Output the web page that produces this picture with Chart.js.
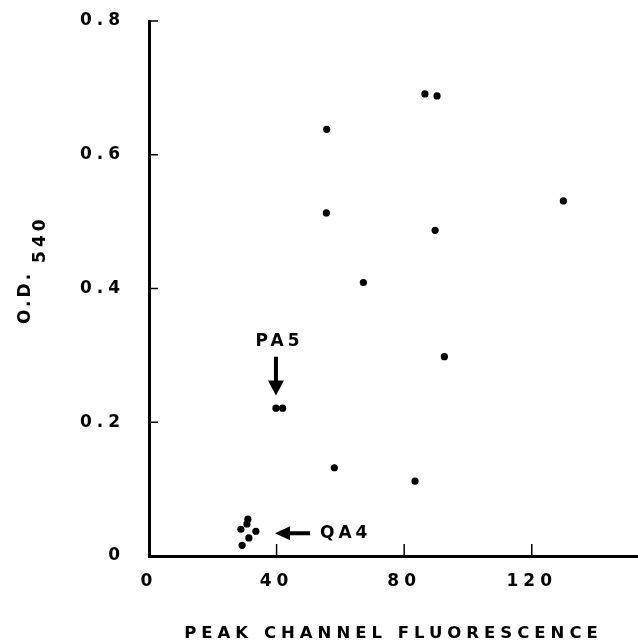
<!DOCTYPE html>
<html lang="en">
 <head>
  <meta charset="UTF-8" />
  <title>O.D. 540 vs peak channel fluorescence</title>
  <script src="https://cdn.jsdelivr.net/npm/chart.js@4.4.0/dist/chart.umd.min.js"></script>
  <style>
   * {
    margin: 0;
    padding: 0;
    box-sizing: border-box;
   }
   body {
    background: #ffffff;
   }
   .wrapper {
    width: 638px;
    height: 644px;
   }
  </style>
 </head>
 <body>
  <div class="wrapper">
   <canvas id="chart" width="638" height="644"></canvas>
  </div>

  <script>
   // tick values
   const xTicks = [0, 40, 80, 120]
   const yTicks = [0, 0.2, 0.4, 0.6, 0.8]

   // peak channel fluorescence vs O.D. 540
   const fluorescence = [55.7, 55.6, 86.5, 90.3, 89.7, 129.9, 67.2, 92.6, 58.1, 83.4, 39.8, 41.9, 31.0, 30.7, 28.8, 33.5, 31.3, 29.2]
   const od540 = [0.638, 0.513, 0.691, 0.688, 0.487, 0.531, 0.409, 0.298, 0.132, 0.112, 0.221, 0.221, 0.055, 0.048, 0.040, 0.037, 0.027, 0.016]

   const xMax = 153.3
   const fontFamily = "'DejaVu Sans', sans-serif"

   // arrow labels (data units)
   const pa5Label = { text: 'PA5', x: 40.3, y: 0.321 }
   const pa5Arrow = { x: 39.8, from: 0.298, to: 0.240 }
   const qa4Label = { text: 'QA4', x: 53.6, y: 0.034 }
   const qa4Arrow = { y: 0.034, from: 50.5, to: 39.5 }

   const points = fluorescence.map((v, i) => ({ x: v, y: od540[i] }))

   const markers = {
    id: 'markers',
    beforeDraw(chart) {
     chart.ctx.letterSpacing = '5px'
    },
    afterDraw(chart) {
     const { ctx, scales } = chart
     const x = scales.x
     const y = scales.y
     ctx.save()
     ctx.strokeStyle = '#000'
     ctx.fillStyle = '#000'

     // tick marks point into the plot
     ctx.lineWidth = 1.5
     yTicks.forEach(v => {
      if (!v) return
      const py = y.getPixelForValue(v)
      ctx.beginPath()
      ctx.moveTo(x.left, py)
      ctx.lineTo(x.left + 9, py)
      ctx.stroke()
     })
     xTicks.forEach(v => {
      if (!v) return
      const px = x.getPixelForValue(v)
      ctx.beginPath()
      ctx.moveTo(px, y.bottom)
      ctx.lineTo(px, y.bottom - 12)
      ctx.stroke()
     })

     // PA5 label + down arrow
     ctx.font = `bold 17px ${fontFamily}`
     ctx.letterSpacing = '4px'
     ctx.textAlign = 'center'
     ctx.textBaseline = 'middle'
     ctx.fillText(pa5Label.text, x.getPixelForValue(pa5Label.x) + 2, y.getPixelForValue(pa5Label.y))

     const ax = x.getPixelForValue(pa5Arrow.x)
     const ay0 = y.getPixelForValue(pa5Arrow.from)
     const ay1 = y.getPixelForValue(pa5Arrow.to)
     ctx.lineWidth = 4
     ctx.beginPath()
     ctx.moveTo(ax, ay0)
     ctx.lineTo(ax, ay1 - 12)
     ctx.stroke()
     ctx.beginPath()
     ctx.moveTo(ax - 8, ay1 - 15)
     ctx.lineTo(ax + 8, ay1 - 15)
     ctx.lineTo(ax, ay1)
     ctx.closePath()
     ctx.fill()

     // QA4 label + left arrow
     const by = y.getPixelForValue(qa4Arrow.y)
     const bx0 = x.getPixelForValue(qa4Arrow.from)
     const bx1 = x.getPixelForValue(qa4Arrow.to)
     ctx.beginPath()
     ctx.moveTo(bx0, by)
     ctx.lineTo(bx1 + 12, by)
     ctx.stroke()
     ctx.beginPath()
     ctx.moveTo(bx1 + 15, by - 7)
     ctx.lineTo(bx1 + 15, by + 7)
     ctx.lineTo(bx1, by)
     ctx.closePath()
     ctx.fill()
     ctx.textAlign = 'left'
     ctx.fillText(qa4Label.text, x.getPixelForValue(qa4Label.x), by)

     // y axis title: O.D. with subscript 540
     ctx.translate(26, 324)
     ctx.rotate(-Math.PI / 2)
     ctx.letterSpacing = '3px'
     ctx.textAlign = 'left'
     ctx.fillText('O.D.', 0, 0)
     const w = ctx.measureText('O.D.').width
     ctx.letterSpacing = '4px'
     ctx.fillText('540', w + 8, 15)
     ctx.restore()
    }
   }

   new Chart(document.getElementById('chart'), {
    type: 'scatter',
    plugins: [markers],
    data: {
     datasets: [
      {
       data: points,
       backgroundColor: '#000',
       borderWidth: 0,
       pointRadius: 3.6,
       pointHoverRadius: 3.6
      }
     ]
    },
    options: {
     responsive: false,
     animation: false,
     layout: { autoPadding: false, padding: { top: 21, right: 0, bottom: 0, left: 0 } },
     plugins: {
      legend: { display: false },
      tooltip: { enabled: false }
     },
     scales: {
      x: {
       type: 'linear',
       min: 0,
       max: xMax,
       afterBuildTicks: scale => {
        scale.ticks = xTicks.map(v => ({ value: v }))
       },
       afterFit: scale => {
        scale.height = 88
        scale.paddingLeft = 0
        scale.paddingRight = 0
       },
       grid: { display: false, drawTicks: false },
       border: { color: '#000', width: 3 },
       ticks: {
        autoSkip: false,
        maxRotation: 0,
        padding: 15,
        color: '#000',
        font: { family: fontFamily, size: 17, weight: 'bold' },
        callback: v => String(v)
       },
       title: {
        display: true,
        text: 'PEAK CHANNEL FLUORESCENCE',
        color: '#000',
        padding: { top: 0, bottom: 0 },
        font: { family: fontFamily, size: 16.5, weight: 'bold' }
       }
      },
      y: {
       type: 'linear',
       min: 0,
       max: 0.8,
       afterBuildTicks: scale => {
        scale.ticks = yTicks.map(v => ({ value: v }))
       },
       afterFit: scale => {
        scale.width = 149
        scale.paddingTop = 0
        scale.paddingBottom = 0
       },
       grid: { display: false, drawTicks: false },
       border: { color: '#000', width: 3 },
       ticks: {
        autoSkip: false,
        padding: 24,
        color: '#000',
        font: { family: fontFamily, size: 17, weight: 'bold' },
        callback: v => (v === 0 ? '0' : v.toFixed(1))
       }
      }
     }
    }
   })
  </script>
 </body>
</html>
